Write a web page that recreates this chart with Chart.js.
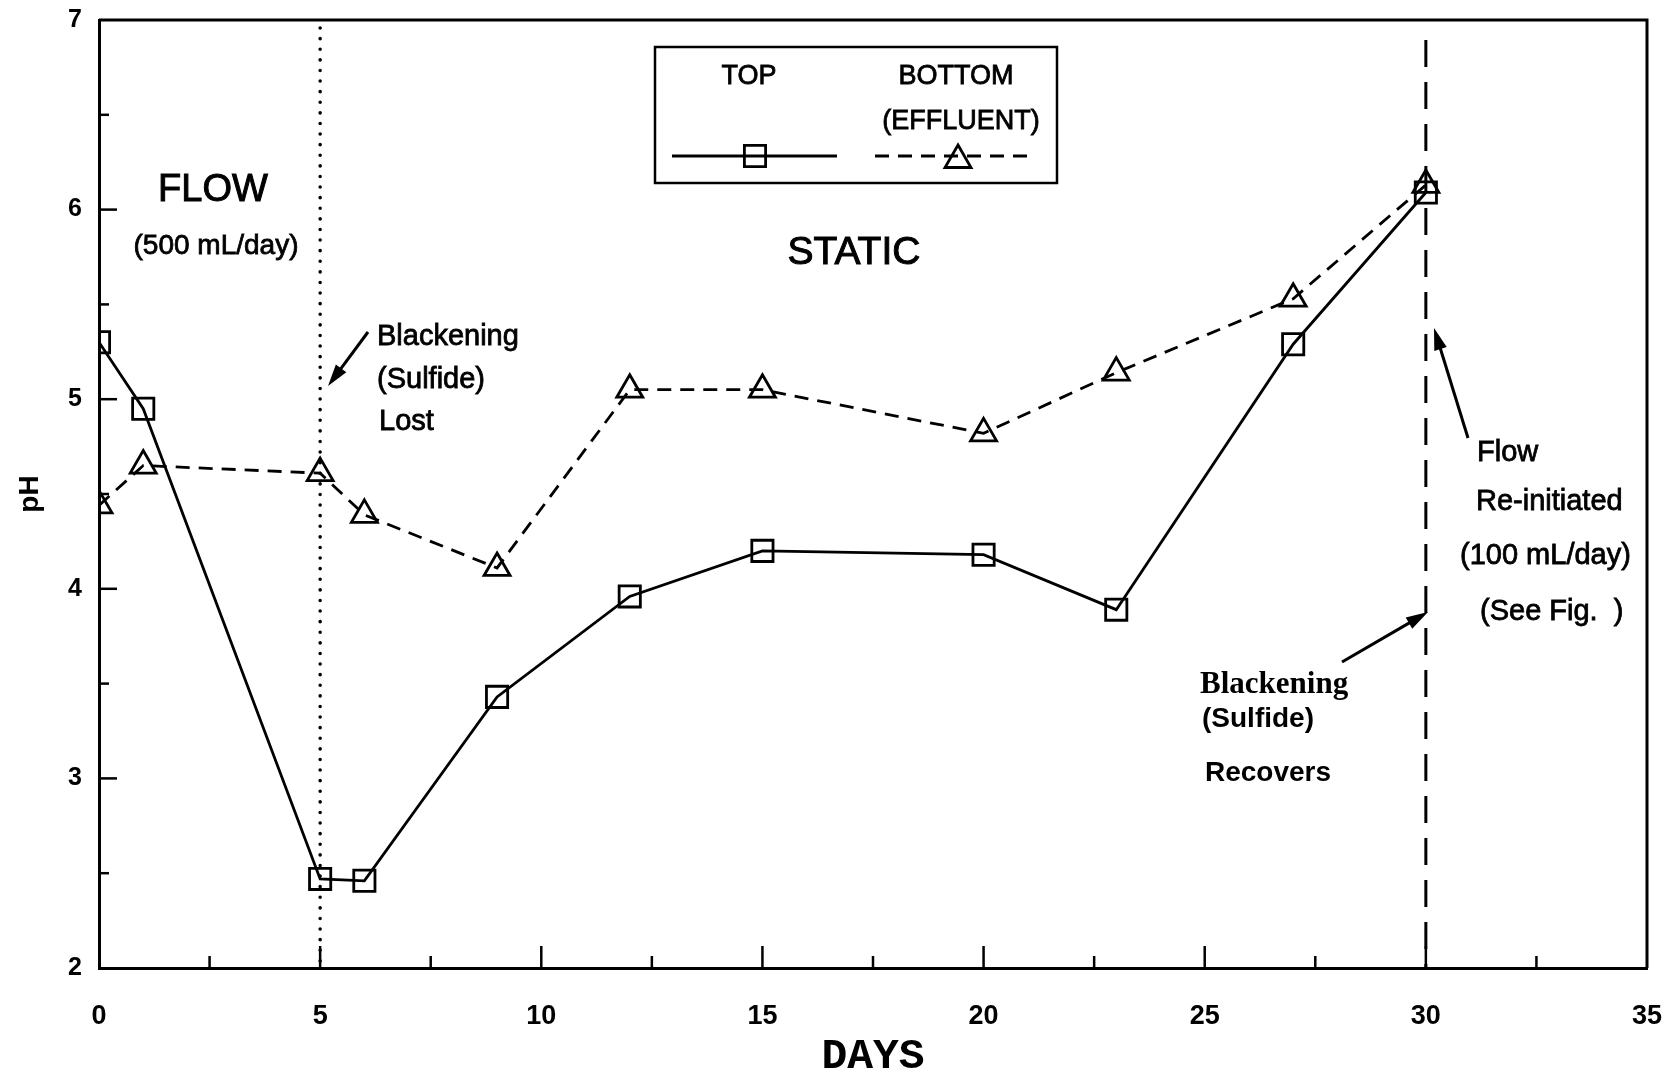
<!DOCTYPE html>
<html><head><meta charset="utf-8">
<script src="https://cdn.jsdelivr.net/npm/chart.js@4.4.1/dist/chart.umd.min.js"></script>
<style>html,body{margin:0;padding:0;background:#fff;} canvas{display:block;}</style>
</head><body>
<canvas id="c" width="1668" height="1076"></canvas>
<script>
// ---- data ----
const days = [0, 1, 5, 6, 9, 12, 15, 20, 23, 27, 30];
const topPH = [5.30, 4.95, 2.47, 2.46, 3.43, 3.96, 4.20, 4.18, 3.89, 5.29, 6.09];
const bottomPH = [4.44, 4.65, 4.61, 4.39, 4.11, 5.05, 5.05, 4.82, 5.14, 5.53, 6.13];
const xTickValues = [0, 5, 10, 15, 20, 25, 30, 35];
const yTickValues = [2, 3, 4, 5, 6, 7];
const legendHeaders = ['TOP', 'BOTTOM', '(EFFLUENT)'];
const eventDays = [5, 30]; // flow stopped / flow re-initiated

const SANS = '"Liberation Sans", Arial, sans-serif';
const SERIF = '"Liberation Serif", "Times New Roman", serif';
const MONO = '"Liberation Mono", "Courier New", monospace';

function pts(xs, ys) { return xs.map((x, i) => ({ x: x, y: ys[i] })); }

function arrow(ctx, x1, y1, x2, y2) {
  const a = Math.atan2(y2 - y1, x2 - x1);
  const hl = 22, hw = 6.5;
  ctx.save();
  ctx.strokeStyle = '#000'; ctx.fillStyle = '#000'; ctx.lineWidth = 3;
  ctx.setLineDash([]);
  ctx.beginPath();
  ctx.moveTo(x1, y1);
  ctx.lineTo(x2 - Math.cos(a) * hl * 0.8, y2 - Math.sin(a) * hl * 0.8);
  ctx.stroke();
  ctx.beginPath();
  ctx.moveTo(x2, y2);
  ctx.lineTo(x2 - Math.cos(a) * hl + Math.sin(a) * hw, y2 - Math.sin(a) * hl - Math.cos(a) * hw);
  ctx.lineTo(x2 - Math.cos(a) * hl - Math.sin(a) * hw, y2 - Math.sin(a) * hl + Math.cos(a) * hw);
  ctx.closePath();
  ctx.fill();
  ctx.restore();
}

function text(ctx, s, x, y, font, align, heavy) {
  ctx.font = font;
  ctx.textAlign = align || 'left';
  ctx.textBaseline = 'middle';
  ctx.fillStyle = '#000';
  ctx.fillText(s, x, y);
  if (heavy) {
    ctx.strokeStyle = '#000';
    ctx.lineWidth = heavy;
    ctx.setLineDash([]);
    ctx.strokeText(s, x, y);
  }
}

function marker(ctx, style, x, y) {
  const H = Chart.helpers;
  if (H && H.drawPoint) {
    ctx.save();
    ctx.strokeStyle = '#000';
    ctx.fillStyle = 'rgba(0,0,0,0)';
    ctx.lineWidth = 2.8;
    ctx.setLineDash([]);
    H.drawPoint(ctx, { pointStyle: style, radius: 15, rotation: 0, borderWidth: 2.8 }, x, y);
    ctx.restore();
  }
}

function noPad(s) { s.paddingLeft = 0; s.paddingRight = 0; s.paddingTop = 0; s.paddingBottom = 0; }

const framePlugin = {
  id: 'frame',
  beforeDatasetsDraw(chart) {
    const ctx = chart.ctx, a = chart.chartArea;
    const xs = chart.scales.x, ys = chart.scales.y;
    ctx.save();
    // top and right frame
    ctx.strokeStyle = '#000'; ctx.lineWidth = 3;
    ctx.beginPath();
    ctx.moveTo(a.left, a.top); ctx.lineTo(a.right, a.top); ctx.lineTo(a.right, a.bottom);
    ctx.stroke();
    // inward ticks
    ctx.lineWidth = 2.5;
    for (let v = ys.min + 0.5; v < ys.max; v += 0.5) {
      const p = ys.getPixelForValue(v);
      const len = Number.isInteger(v) ? 18 : 10;
      ctx.beginPath(); ctx.moveTo(a.left, p); ctx.lineTo(a.left + len, p); ctx.stroke();
    }
    for (let v = xs.min + 2.5; v < xs.max; v += 2.5) {
      const p = xs.getPixelForValue(v);
      const len = (v % 5 === 0) ? 22 : 12;
      ctx.beginPath(); ctx.moveTo(p, a.bottom); ctx.lineTo(p, a.bottom - len); ctx.stroke();
    }
    // event lines
    const p5 = xs.getPixelForValue(eventDays[0]);
    ctx.lineWidth = 3.5; ctx.lineCap = 'round';
    ctx.setLineDash([0.1, 10.5]);
    ctx.beginPath(); ctx.moveTo(p5, a.top + 8); ctx.lineTo(p5, a.bottom); ctx.stroke();
    const p30 = xs.getPixelForValue(eventDays[1]);
    ctx.lineCap = 'butt'; ctx.lineWidth = 3;
    ctx.setLineDash([27, 15]);
    ctx.beginPath(); ctx.moveTo(p30, a.top + 20); ctx.lineTo(p30, a.bottom); ctx.stroke();
    ctx.restore();
  },
  afterDraw(chart) {
    const ctx = chart.ctx;
    ctx.save();
    const H = 0.8;
    // region labels
    text(ctx, 'FLOW', 213, 191, '38px ' + SANS, 'center', 1);
    text(ctx, '(500 mL/day)', 216, 246, '28px ' + SANS, 'center', H);
    text(ctx, 'STATIC', 854, 253, '39px ' + SANS, 'center', 1);
    // blackening lost
    text(ctx, 'Blackening', 377, 337, '29px ' + SANS, 'left', H);
    text(ctx, '(Sulfide)', 377, 380, '29px ' + SANS, 'left', H);
    text(ctx, 'Lost', 379, 422, '29px ' + SANS, 'left', H);
    arrow(ctx, 368, 332, 328, 386);
    // flow re-initiated
    text(ctx, 'Flow', 1477, 453, '29px ' + SANS, 'left', H);
    text(ctx, 'Re-initiated', 1476, 502, '29px ' + SANS, 'left', H);
    text(ctx, '(100 mL/day)', 1460, 556, '29px ' + SANS, 'left', H);
    text(ctx, '(See Fig.  )', 1480, 612, '29px ' + SANS, 'left', H);
    arrow(ctx, 1468, 438, 1434, 328);
    // blackening recovers
    text(ctx, 'Blackening', 1200, 685, 'bold 31px ' + SERIF);
    text(ctx, '(Sulfide)', 1202, 719, 'bold 28px ' + SANS);
    text(ctx, 'Recovers', 1205, 773, 'bold 28px ' + SANS);
    arrow(ctx, 1342, 662, 1428, 612);
    // legend box
    ctx.fillStyle = '#fff';
    ctx.fillRect(655, 47, 402, 136);
    ctx.strokeStyle = '#000'; ctx.lineWidth = 2.5; ctx.setLineDash([]);
    ctx.strokeRect(655, 47, 402, 136);
    text(ctx, legendHeaders[0], 749, 77, '27px ' + SANS, 'center', H);
    text(ctx, legendHeaders[1], 956, 77, '27px ' + SANS, 'center', H);
    text(ctx, legendHeaders[2], 961, 122, '27px ' + SANS, 'center', H);
    ctx.strokeStyle = '#000';
    ctx.lineWidth = 2.8;
    ctx.beginPath(); ctx.moveTo(672, 156); ctx.lineTo(837, 156); ctx.stroke();
    marker(ctx, 'rect', 755, 156);
    ctx.lineWidth = 2.8;
    ctx.setLineDash([14, 9]);
    ctx.beginPath(); ctx.moveTo(875, 156); ctx.lineTo(1030, 156); ctx.stroke();
    ctx.setLineDash([]);
    marker(ctx, 'triangle', 958, 160);
    ctx.restore();
  }
};

new Chart(document.getElementById('c'), {
  type: 'line',
  data: {
    datasets: [
      {
        label: legendHeaders[0],
        data: pts(days, topPH),
        borderColor: '#000', borderWidth: 2.8,
        pointStyle: 'rect', pointRadius: 15,
        pointBorderColor: '#000', pointBackgroundColor: 'rgba(0,0,0,0)', pointBorderWidth: 2.8,
        tension: 0, fill: false
      },
      {
        label: legendHeaders[1] + ' ' + legendHeaders[2],
        data: pts(days, bottomPH),
        borderColor: '#000', borderWidth: 2.8, borderDash: [14, 9],
        pointStyle: 'triangle', pointRadius: 15,
        pointBorderColor: '#000', pointBackgroundColor: 'rgba(0,0,0,0)', pointBorderWidth: 2.8,
        tension: 0, fill: false
      }
    ]
  },
  options: {
    responsive: false, animation: false, devicePixelRatio: 1,
    layout: { padding: { top: 20, right: 21, left: 0, bottom: 0 } },
    plugins: { legend: { display: false }, tooltip: { enabled: false } },
    scales: {
      x: {
        type: 'linear', min: 0, max: 35,
        afterFit: s => { s.height = 108; noPad(s); },
        afterBuildTicks: s => { s.ticks = xTickValues.map(v => ({ value: v })); },
        grid: { display: false, drawTicks: false },
        border: { display: true, color: '#000', width: 3 },
        ticks: { color: '#000', padding: 32, maxRotation: 0, font: { family: SANS, size: 27, weight: 'bold' } },
        title: { display: true, text: 'DAYS', color: '#000', padding: { top: 0, bottom: -7 }, font: { family: MONO, size: 43, weight: 'bold' } }
      },
      y: {
        type: 'linear', min: 2, max: 7,
        afterFit: s => { s.width = 99; noPad(s); },
        afterBuildTicks: s => { s.ticks = yTickValues.map(v => ({ value: v })); },
        grid: { display: false, drawTicks: false },
        border: { display: true, color: '#000', width: 3 },
        ticks: { color: '#000', padding: 17, font: { family: SANS, size: 25, weight: 'bold' } },
        title: { display: true, text: 'pH', color: '#000', padding: { top: 13, bottom: 0 }, font: { family: SANS, size: 28, weight: 'bold' } }
      }
    }
  },
  plugins: [framePlugin]
});
</script>
</body></html>
